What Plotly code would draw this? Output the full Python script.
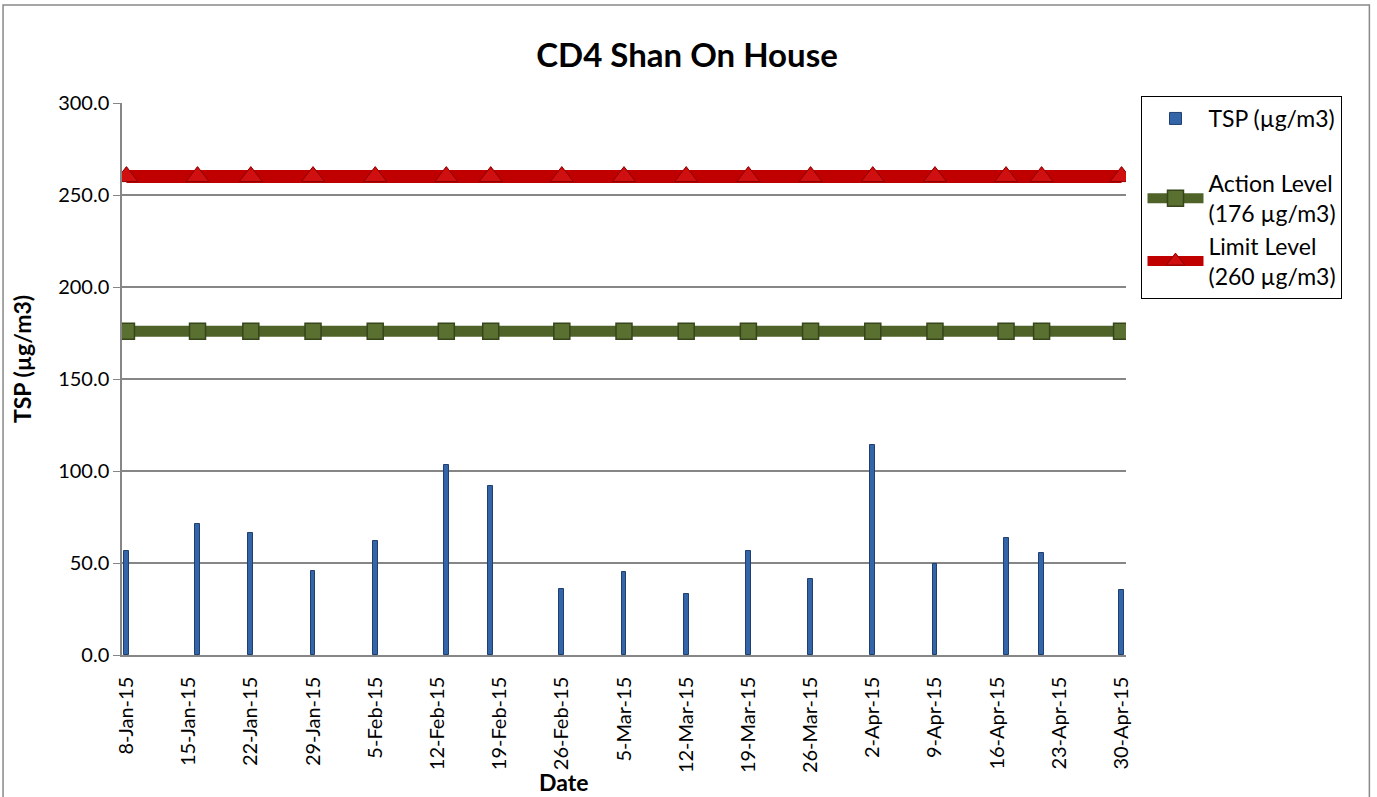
import plotly.graph_objects as go
from datetime import date, timedelta

# ---- data ----
dates = ["2015-01-08", "2015-01-16", "2015-01-22", "2015-01-29", "2015-02-05",
         "2015-02-13", "2015-02-18", "2015-02-26", "2015-03-05", "2015-03-12",
         "2015-03-19", "2015-03-26", "2015-04-02", "2015-04-09", "2015-04-17",
         "2015-04-21", "2015-04-30"]
tsp = [56.5, 71.0, 66.5, 45.7, 62.0, 103.1, 91.8, 35.9, 45.1, 33.2,
       56.4, 41.5, 114.0, 49.7, 63.6, 55.4, 35.5]
action_level = [176] * len(dates)
limit_level = [260] * len(dates)

tick_dates = [date(2015, 1, 8) + timedelta(days=7 * i) for i in range(17)]
tick_vals = [d.isoformat() for d in tick_dates]
tick_text = [f"{d.day}-{d.strftime('%b')}-15" for d in tick_dates]

FONT = "Lato"
W, H = 1377, 797
L, R, T, B = 122, W - 1126.5, 103, H - 655
PW, PH = W - L - R, H - T - B

fig = go.Figure()
fig.add_trace(go.Bar(
    x=dates, y=tsp, name="TSP (µg/m3)", width=0.55 * 86400000,
    marker=dict(color="#3465A8", line=dict(color="#1F3F6E", width=1)),
    legendgroup="a"))
fig.add_trace(go.Scatter(
    x=dates, y=action_level, name="Action Level<br>(176 µg/m3)", mode="lines+markers",
    line=dict(color="#4F6228", width=11),
    marker=dict(symbol="square", size=16, color="#5A7030",
                line=dict(color="#37451B", width=1.5)),
    legendgroup="b"))
fig.add_trace(go.Scatter(
    x=dates, y=limit_level, name="Limit Level<br>(260 µg/m3)", mode="lines+markers",
    line=dict(color="#C00000", width=13),
    marker=dict(symbol="triangle-up", size=20, color="#D01010",
                line=dict(color="#8B0000", width=1)),
    legendgroup="b"))

fig.update_layout(
    width=W, height=H,
    margin=dict(l=L, r=R, t=T, b=B),
    paper_bgcolor="white", plot_bgcolor="white",
    font=dict(family=FONT, size=20, color="black"),
    title=dict(text="<b>CD4 Shan On House</b>", x=687 / W, xanchor="center",
               y=1 - 55 / H, yanchor="middle", font=dict(size=33, family=FONT)),
    showlegend=True,
    legend=dict(x=(1142 - L) / PW, y=(655 - 96) / PH, xanchor="left", yanchor="top",
                bordercolor="black", borderwidth=1, bgcolor="white",
                font=dict(size=23, family=FONT), traceorder="grouped",
                tracegroupgap=32, itemwidth=56),
    bargap=0,
    xaxis=dict(
        type="date", range=["2015-01-07 12:00", "2015-04-30 12:00"],
        tickvals=tick_vals, ticktext=tick_text, tickangle=-90,
        tickfont=dict(size=20, family=FONT),
        showgrid=False, showline=True, linecolor="#868686", linewidth=1.5,
        ticks="outside", ticklen=12, tickcolor="rgba(0,0,0,0)", zeroline=False),
    yaxis=dict(
        range=[0, 300], dtick=50, tickformat=".1f",
        tickfont=dict(size=20, family=FONT),
        showgrid=True, gridcolor="#868686", gridwidth=1.5,
        showline=True, linecolor="#868686", linewidth=1.5,
        ticks="outside", ticklen=7, tickcolor="#868686", zeroline=False),
    shapes=[dict(type="rect", xref="paper", yref="paper",
                 x0=(3 - L) / PW, x1=(1370 - L) / PW,
                 y0=(655 - 800) / PH, y1=(655 - 5) / PH,
                 line=dict(color="#898989", width=1.5), fillcolor="rgba(0,0,0,0)",
                 layer="below")],
    annotations=[
        dict(text="<b>Date</b>", xref="paper", yref="paper",
             x=(564 - L) / PW, y=(655 - 782) / PH, xanchor="center",
             yanchor="middle", showarrow=False, font=dict(size=23, family=FONT)),
        dict(text="<b>TSP (µg/m3)</b>", xref="paper", yref="paper",
             x=(22 - L) / PW, y=(655 - 359) / PH, xanchor="center",
             yanchor="middle", textangle=-90, showarrow=False,
             font=dict(size=23, family=FONT)),
    ],
)

fig.write_html("out.html", config={"displayModeBar": False},
               post_script="document.body.style.margin='0';document.body.style.padding='0';")
